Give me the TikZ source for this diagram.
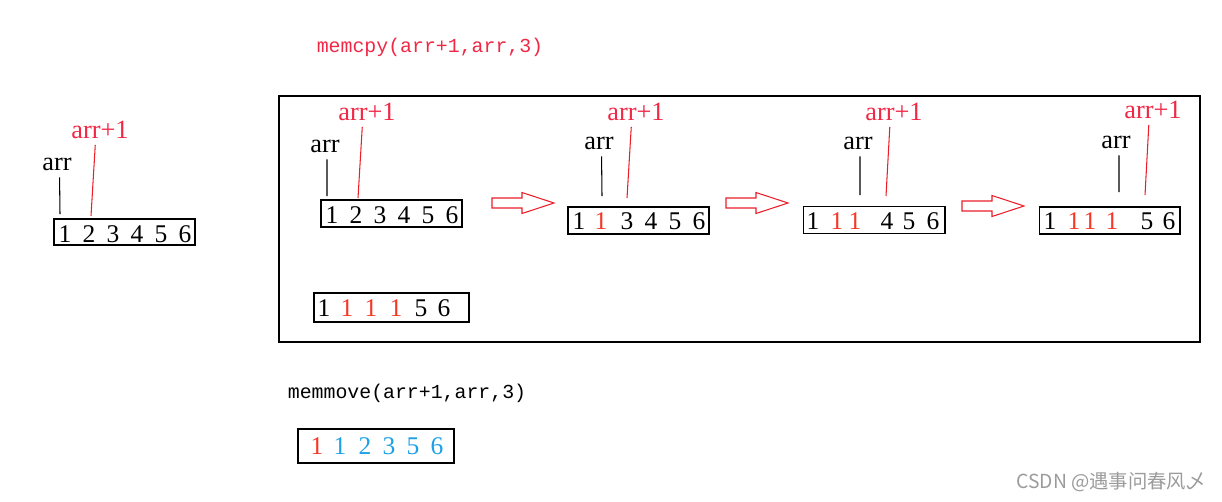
\documentclass[tikz,border=0pt]{standalone}
\usepackage{fontspec}
\setmainfont{Liberation Serif}
\setmonofont{Liberation Mono}
\newfontfamily\cjkfont{Noto Sans CJK SC}
\usetikzlibrary{calc}
\definecolor{codeRed}{RGB}{240,40,70}
\definecolor{lineRed}{RGB}{235,30,40}
\definecolor{digitRed}{RGB}{245,55,40}
\definecolor{cellBlue}{RGB}{30,160,230}
\definecolor{markGray}{RGB}{155,155,155}

\begin{document}
\begin{tikzpicture}[
      x=0.02cm, y=-0.02cm,
      numbox/.style={draw, line width=0.6pt, minimum width=2.82cm, minimum height=0.54cm, inner sep=0pt},
      digit/.style={font=\fontsize{14.5}{16}\selectfont, inner sep=0pt},
      lbl/.style={font=\fontsize{15}{17}\selectfont, inner sep=1pt},
      code/.style={font=\ttfamily\fontsize{11.3}{13}\selectfont, inner sep=1pt},
      ptr/.style={line width=0.6pt, shorten <=0.1cm},
      redptr/.style={lineRed, line width=0.6pt, shorten <=0.08cm},
      hollowarrow/.pic={\draw[lineRed, line width=0.6pt] (0,-5) -- (30,-5) -- (30,-10.5) -- (62,0) -- (30,10.5) -- (30,5) -- (0,5) -- cycle;}
    ]
      \useasboundingbox (0,0) rectangle (1222,501);

      % starting array
      \node[numbox, minimum height=0.52cm] (b0) at (124.5,232) {};
      \foreach \x/\d in {65/1, 89/2, 113/3, 137/4, 161/5, 185/6}
        \node[digit] at (\x,234) {\d};
      \node[lbl] (a0) at (57,164) {arr};
      \node[lbl, text=codeRed] (q0) at (100,130) {arr+1};
      \coordinate (a0e) at (60,214);
      \coordinate (q0e) at (91,216);
      \draw[ptr] ([xshift=0.05cm]a0.south) -- (a0e);
      \draw[redptr] ([xshift=-0.09cm]q0.south) -- (q0e);

      % memcpy steps
      \node[code, text=codeRed] (cpy) at (430,47) {memcpy(arr+1,arr,3)};
      \draw[line width=0.6pt] (279,96) rectangle (1200,342);

      \node[numbox] (b1) at (391.5,213.5) {};
      \foreach \x/\d in {332/1, 356/2, 380/3, 404/4, 428/5, 452/6}
        \node[digit] at (\x,215) {\d};
      \node[lbl] (a1) at (325,146) {arr};
      \node[lbl, text=codeRed] (q1) at (367,112) {arr+1};
      \coordinate (a1e) at (327,196);
      \coordinate (q1e) at (358,198);
      \draw[ptr] ([xshift=0.04cm]a1.south) -- (a1e);
      \draw[redptr] ([xshift=-0.09cm]q1.south) -- (q1e);

      \pic at (492,203) {hollowarrow};

      \node[numbox] (b2) at (638.5,220.5) {};
      \foreach \x/\d/\c in {579/1/black, 601/1/digitRed, 627/3/black, 651/4/black, 675/5/black, 699/6/black}
        \node[digit, text=\c] at (\x,221) {\d};
      \node[lbl] (a2) at (599,143) {arr};
      \node[lbl, text=codeRed] (q2) at (636,112) {arr+1};
      \coordinate (a2e) at (602,196);
      \coordinate (q2e) at (627,198);
      \draw[ptr] ([xshift=0.05cm]a2.south) -- (a2e);
      \draw[redptr] ([xshift=-0.09cm]q2.south) -- (q2e);

      \pic at (726,203) {hollowarrow};

      \node[numbox, minimum width=2.84cm] (b3) at (874,220) {};
      \foreach \x/\d/\c in {813/1/black, 837/1/digitRed, 855/1/digitRed, 887/4/black, 909/5/black, 933/6/black}
        \node[digit, text=\c] at (\x,221) {\d};
      \node[lbl] (a3) at (858,143) {arr};
      \node[lbl, text=codeRed] (q3) at (894,112) {arr+1};
      \coordinate (a3e) at (860,195);
      \coordinate (q3e) at (886,196);
      \draw[ptr] ([xshift=0.04cm]a3.south) -- (a3e);
      \draw[redptr] ([xshift=-0.08cm]q3.south) -- (q3e);

      \pic at (962,206) {hollowarrow};

      \node[numbox] (b4) at (1109.5,220.5) {};
      \foreach \x/\d/\c in {1050/1/black, 1074/1/digitRed, 1090/1/digitRed, 1112/1/digitRed, 1147/5/black, 1169/6/black}
        \node[digit, text=\c] at (\x,221) {\d};
      \node[lbl] (a4) at (1116,142) {arr};
      \node[lbl, text=codeRed] (q4) at (1153,110) {arr+1};
      \coordinate (a4e) at (1119,192);
      \coordinate (q4e) at (1145,195);
      \draw[ptr] ([xshift=0.06cm]a4.south) -- (a4e);
      \draw[redptr] ([xshift=-0.08cm]q4.south) -- (q4e);

      % memcpy result
      \node[numbox, minimum width=3.1cm, minimum height=0.58cm] (b5) at (391.5,307.5) {};
      \foreach \x/\d/\c in {324/1/black, 347/1/digitRed, 371/1/digitRed, 396/1/digitRed, 421/5/black, 444/6/black}
        \node[digit, text=\c] at (\x,308) {\d};

      % memmove result
      \node[code] (mov) at (407,393) {memmove(arr+1,arr,3)};
      \node[numbox, minimum width=3.12cm, minimum height=0.68cm] (b6) at (376,446) {};
      \foreach \x/\d/\c in {317/1/digitRed, 340/1/cellBlue, 365/2/cellBlue, 389/3/cellBlue, 413/5/cellBlue, 437/6/cellBlue}
        \node[digit, text=\c] at (\x,446) {\d};

      \node[font=\cjkfont\fontsize{11}{13}\selectfont, text=markGray] (mark) at (1111,482) {CSDN @遇事问春风乄};
    \end{tikzpicture}
\end{document}
